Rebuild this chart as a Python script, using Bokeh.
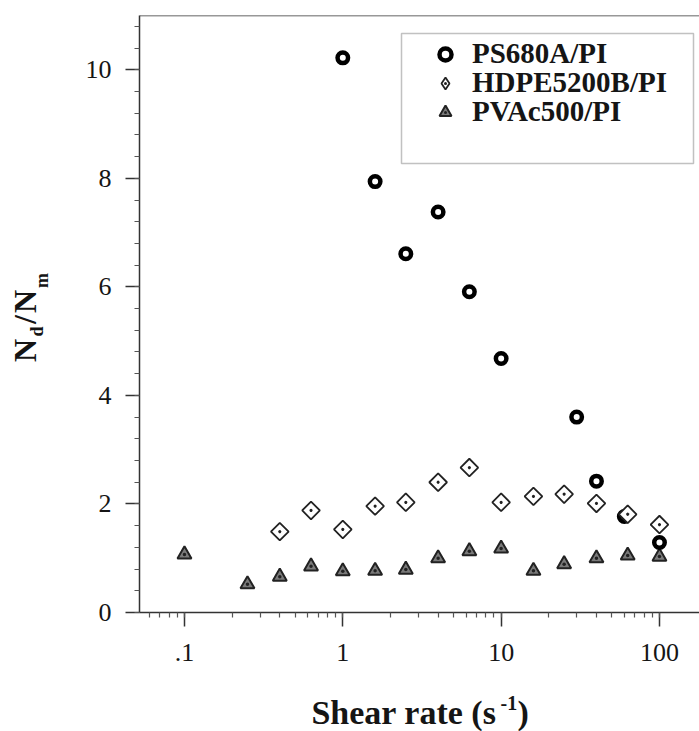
import math
from bokeh.plotting import figure
from bokeh.layouts import row, column
from bokeh.models import (Range1d, LogTicker, SingleIntervalTicker, Label, Legend,
                          LegendItem, BoxAnnotation, Span)
from bokeh.embed import file_html
from bokeh.resources import INLINE

# ---- data ----
ps_x = [1, 1.6, 2.5, 4, 6.3, 10, 30, 40, 60, 100]
ps_y = [10.22, 7.94, 6.61, 7.38, 5.91, 4.68, 3.60, 2.42, 1.77, 1.29]

hd_x = [0.4, 0.63, 1, 1.6, 2.5, 4, 6.3, 10, 16, 25, 40, 63, 100]
hd_y = [1.49, 1.88, 1.53, 1.96, 2.03, 2.40, 2.67, 2.03, 2.14, 2.18, 2.01, 1.81, 1.62]

pv_x = [0.1, 0.25, 0.4, 0.63, 1, 1.6, 2.5, 4, 6.3, 10, 16, 25, 40, 63, 100]
pv_y = [1.07, 0.52, 0.66, 0.85, 0.76, 0.77, 0.79, 1.00, 1.13, 1.18, 0.77, 0.89, 1.00, 1.05, 1.03]

series_names = ["PS680A/PI", "HDPE5200B/PI", "PVAc500/PI"]
x_tick_labels = {0.1: ".1", 1: "1", 10: "10", 100: "100"}

FONT = "Liberation Serif"
INK = "#151515"

X_LO, X_HI = 0.052, 179.0
Y_LO, Y_HI = 0.0, 11.0
W, H = 699, 731
YL_W = 60           # width of the strip holding the y title
XL_H = 51           # height of the strip holding the x title
FL, FR, FT, FB = 139, 699, 15, 612   # frame edges in canvas pixels
MAIN_H = H - XL_H

p = figure(width=W - YL_W, height=MAIN_H, x_axis_type="log",
           x_range=Range1d(X_LO, X_HI), y_range=Range1d(Y_LO, Y_HI),
           output_backend="svg", toolbar_location=None,
           min_border_left=FL - YL_W, min_border_right=W - FR,
           min_border_top=FT, min_border_bottom=MAIN_H - FB)
p.outline_line_color = None
p.grid.visible = False
p.background_fill_color = "white"
p.border_fill_color = "white"


def cx(px):
    """canvas pixel -> data x (log axis), used only for placing the legend box"""
    a, b = math.log10(X_LO), math.log10(X_HI)
    return 10 ** (a + (px - FL) / (FR - FL) * (b - a))


def cy(py):
    return Y_LO + (FB - py) / (FB - FT) * (Y_HI - Y_LO)


# top frame line
p.add_layout(Span(location=Y_HI, dimension="width", line_color="#333333", line_width=1.5))

xa = p.xaxis[0]
xa.ticker = LogTicker(num_minor_ticks=10)
xa.major_label_overrides = x_tick_labels
ya = p.yaxis[0]
ya.ticker = SingleIntervalTicker(interval=2, num_minor_ticks=5)

for ax in (xa, ya):
    ax.axis_line_color = "#333333"
    ax.axis_line_width = 1.5
    ax.major_tick_line_color = "#333333"
    ax.major_tick_line_width = 1.5
    ax.minor_tick_line_color = "#555555"
    ax.minor_tick_line_width = 1.2
    ax.major_tick_in = 0
    ax.major_tick_out = 14
    ax.minor_tick_in = 0
    ax.minor_tick_out = 5
    ax.major_label_text_font = FONT
    ax.major_label_text_font_size = "26px"
    ax.major_label_text_color = INK
xa.major_label_standoff = 17
ya.major_label_standoff = 14

r_pv = p.scatter(pv_x, pv_y, marker="triangle_dot", size=14, fill_color="#7a7a7a",
                 line_color="#222222", line_width=2)
r_ps = p.scatter(ps_x, ps_y, marker="circle", size=10.5, fill_color="white",
                 line_color="black", line_width=4.5)
r_hd = p.scatter(hd_x, hd_y, marker="square_dot", angle=math.pi / 4, size=12.5,
                 fill_color="white", line_color="#222222", line_width=1.8)
# hidden twin used only for the legend swatch (legend swatches ignore the angle)
r_hd_leg = p.scatter(hd_x, hd_y, marker="diamond_dot", size=12.5, visible=False,
                     fill_color="white", line_color="#222222", line_width=1.8)

# legend box
p.add_layout(BoxAnnotation(left=cx(401), right=cx(693), top=cy(33), bottom=cy(163),
                           fill_color=None, line_color="#333333", line_width=1.5))

ROW_H = 30
for name, rend, c in zip(series_names, [r_ps, r_hd_leg, r_pv], [55, 84, 113]):
    lg = Legend(items=[LegendItem(label=name, renderers=[rend])],
                location=(430 - FL, FB - (c + ROW_H / 2)), border_line_color=None,
                background_fill_alpha=0, inactive_fill_alpha=0,
                padding=0, margin=0, spacing=0,
                glyph_width=30, glyph_height=ROW_H, label_height=ROW_H,
                label_standoff=12, label_text_font=FONT, label_text_font_style="bold",
                label_text_font_size="29px", label_text_color=INK)
    p.add_layout(lg)


def strip(w, h, top, bottom):
    f = figure(width=w, height=h, output_backend="svg", toolbar_location=None,
               x_axis_location=None, y_axis_location=None,
               min_border_left=0, min_border_right=0,
               min_border_top=top, min_border_bottom=bottom,
               x_range=Range1d(0, 1), y_range=Range1d(0, 1))
    f.outline_line_color = None
    f.grid.visible = False
    f.background_fill_color = "white"
    f.border_fill_color = "white"
    return f


ylab = strip(YL_W, MAIN_H, FT, MAIN_H - FB)
xlab = strip(W, XL_H, 0, 0)


def txt(fig, x, y, text, size, align="center", angle=0.0):
    fig.add_layout(Label(x=x, y=y, x_units="screen", y_units="screen",
                         text=text, angle=angle, text_align=align,
                         text_baseline="alphabetic", text_font=FONT,
                         text_font_style="bold", text_font_size=size, text_color=INK))


SHIFT = 0.33  # the drawn baseline lands this many em past the anchor

# y-axis title  N_d/N_m (rotated); positions are canvas px, frame bottom at FB
V = math.pi / 2
for t, px, py, sz in [("N", 35, 350, 32), ("d", 42, 331, 18),
                      ("/", 35, 319, 32), ("N", 35, 301, 32),
                      ("m", 47, 280, 18)]:
    txt(ylab, px - SHIFT * sz, FB - py, t, f"{sz}px", angle=V)

# x-axis title  Shear rate (s^-1); strip spans canvas y MAIN_H..H
for t, px, py, sz, al in [("Shear rate (s", 496, 723, 34, "right"),
                          ("-1", 500, 709, 20, "left"),
                          (")", 517, 723, 34, "left")]:
    txt(xlab, px, H - py + SHIFT * sz, t, f"{sz}px", align=al)

layout = column(row(ylab, p, spacing=0), xlab, spacing=0)
open("out.html", "w").write(file_html(layout, INLINE))
